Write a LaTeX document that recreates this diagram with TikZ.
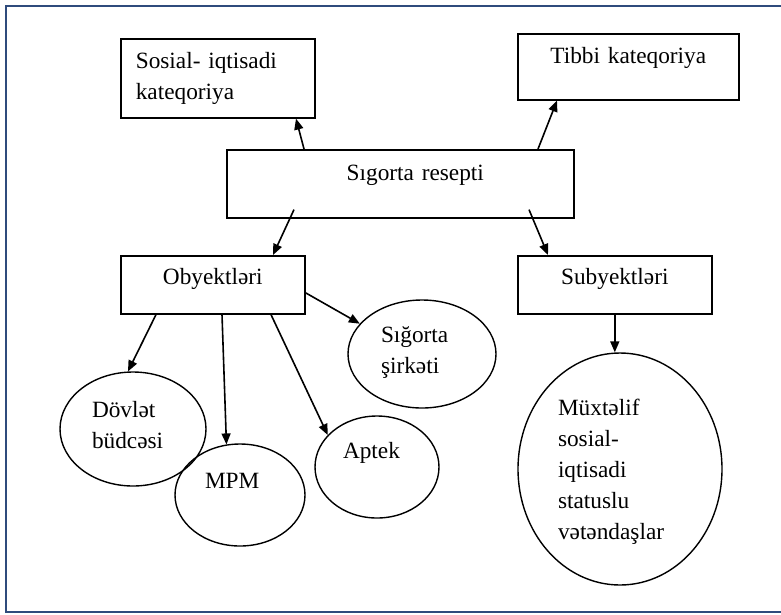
\documentclass[tikz,border=0pt]{standalone}
\usepackage{fontspec}
\setmainfont{Liberation Serif}
\usepackage{tikz}
\usetikzlibrary{arrows.meta,shapes.geometric}
\definecolor{framenavy}{HTML}{2F4B7C}

\begin{document}
\begin{tikzpicture}[x=1pt,y=-1pt,
  font=\fontsize{23.3pt}{31pt}\selectfont,
  box/.style={draw,line width=1.6pt,inner sep=0pt,anchor=north west},
  oval/.style={draw,ellipse,line width=1.4pt,inner sep=0pt,align=left},
  arr/.style={-{Triangle[length=11pt,width=9pt]},line width=1.6pt}]
\useasboundingbox (0,0) rectangle (781,614);
\draw[framenavy,line width=2.5pt] (781,6) -- (6,6) -- (6,612) -- (781,612);

\node[box,text width=164pt,inner xsep=15pt,align=left,text height=30pt,text depth=49pt] (sos) at (120,38) {Sosial- iqtisadi\\kateqoriya};
\node[box,text width=221pt,align=center,text height=30pt,text depth=36pt] (tib) at (517,33) {Tibbi kateqoriya};
\node[box,text width=347pt,align=center,text height=31pt,text depth=37pt] (res) at (226,149) {\hspace*{30pt}Sıgorta resepti};
\node[box,text width=184pt,align=center,text height=29pt,text depth=29pt] (obj) at (120,255) {Obyektləri};
\node[box,text width=194pt,align=center,text height=29pt,text depth=29pt] (sub) at (517,255) {Subyektləri};

\node[oval,minimum width=146pt,minimum height=114pt,text width=82pt,text height=17pt,text depth=41pt] (dov) at (133,429) {Dövlət\\büdcəsi};
\node[oval,minimum width=130pt,minimum height=102pt,text width=70pt,text height=17pt,text depth=31pt] (mpm) at (240,495) {MPM};
\node[oval,minimum width=124pt,minimum height=102pt,text width=68pt,text height=17pt,text depth=35pt] (apt) at (377,467) {Aptek};
\node[oval,minimum width=148pt,minimum height=108pt,text width=82pt,text height=17pt,text depth=41pt] (sig) at (422,354) {Sığorta\\şirkəti};
\node[oval,minimum width=204pt,minimum height=232pt,text width=124pt,text height=17pt,text depth=125pt] (mux) at (620,469) {Müxtəlif\\sosial-\\iqtisadi\\statuslu\\vətəndaşlar};

\draw[arr] ([xshift=78pt]res.north west) -- ([xshift=176pt]sos.south west);
\draw[arr] ([xshift=312pt]res.north west) -- ([xshift=40pt]tib.south west);
\draw[arr] ([shift={(68pt,9pt)}]res.south west) -- ([xshift=153pt]obj.north west);
\draw[arr] ([shift={(303pt,9pt)}]res.south west) -- ([xshift=31pt]sub.north west);
\draw[arr] ([xshift=36pt]obj.south west) -- (dov.95);
\draw[arr] ([xshift=102pt]obj.south west) -- (mpm.105);
\draw[arr] ([xshift=151pt]obj.south west) -- (apt.147);
\draw[arr] ([yshift=-8pt]obj.east) -- (sig.154);
\draw[arr] (sub.south) -- (sub.south |- mux.north);
\end{tikzpicture}
\end{document}
